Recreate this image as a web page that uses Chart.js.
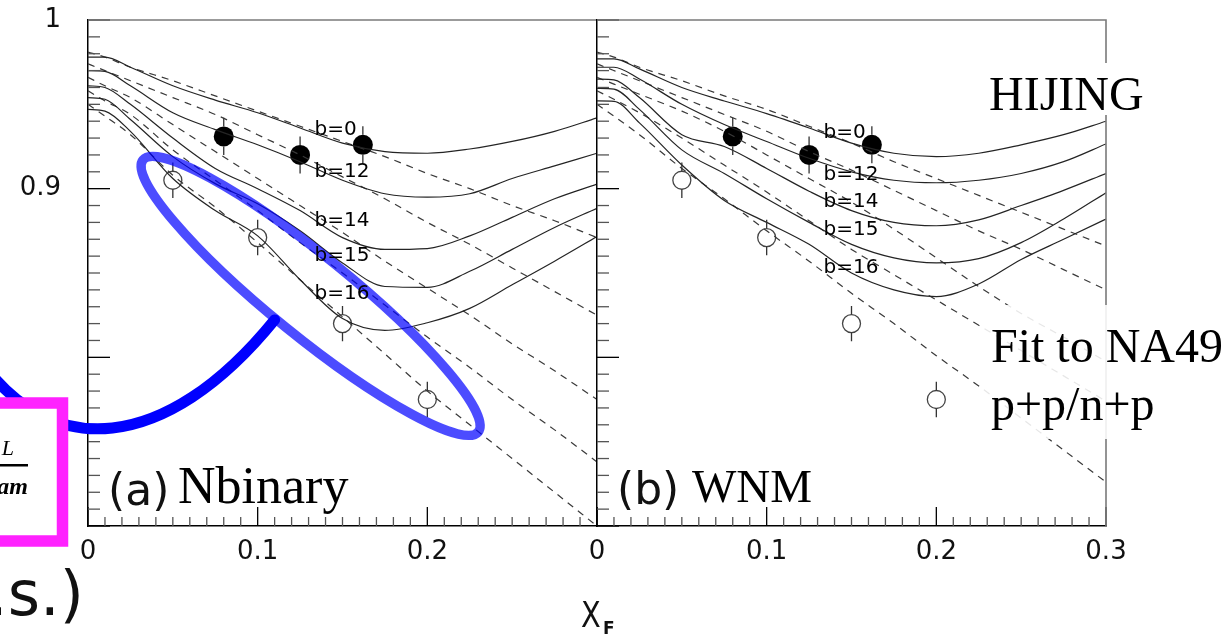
<!DOCTYPE html>
<html>
<head>
<meta charset="utf-8">
<script src="https://cdn.jsdelivr.net/npm/chart.js@4.4.0/dist/chart.umd.min.js"></script>
<style>
  html, body { margin: 0; padding: 0; background: #fff; }
  #wrap { position: relative; width: 1229px; height: 635px; overflow: hidden; }
  #wrap canvas { position: absolute; left: 0; top: 0; }
</style>
</head>
<body>
<div id="wrap">
  <canvas id="panelA" width="1229" height="635"></canvas>
  <canvas id="panelB" width="1229" height="635"></canvas>
</div>
<script>
// x grid shared by all model curves
const xGrid = [0, 0.01, 0.025, 0.05, 0.075, 0.1, 0.125, 0.15, 0.175, 0.2, 0.225, 0.25, 0.275, 0.3];
const bNames = ['b=0', 'b=12', 'b=14', 'b=15', 'b=16'];

// (a) Nbinary - HIJING curves (solid)
const nbinB0  = [0.978, 0.978, 0.972, 0.961, 0.9525, 0.945, 0.936, 0.927, 0.922, 0.921, 0.9235, 0.928, 0.934, 0.942];
const nbinB12 = [0.970, 0.9695, 0.961, 0.945, 0.935, 0.926, 0.916, 0.905, 0.897, 0.895, 0.897, 0.906, 0.9135, 0.921];
const nbinB14 = [0.961, 0.960, 0.950, 0.930, 0.912, 0.900, 0.887, 0.871, 0.864, 0.8645, 0.872, 0.883, 0.894, 0.9027];
const nbinB15 = [0.954, 0.953, 0.941, 0.919, 0.903, 0.891, 0.875, 0.856, 0.842, 0.8415, 0.851, 0.864, 0.877, 0.8884];
const nbinB16 = [0.947, 0.946, 0.934, 0.906, 0.887, 0.872, 0.846, 0.823, 0.816, 0.8205, 0.829, 0.843, 0.857, 0.8716];
// (a) Nbinary - fits (dashed)
const nbinFit0  = [0.981, 0.978, 0.972, 0.964, 0.955, 0.946, 0.937, 0.928, 0.919, 0.909, 0.900, 0.890, 0.881, 0.871];
const nbinFit12 = [0.974, 0.970, 0.964, 0.954, 0.944, 0.932, 0.920, 0.907, 0.894, 0.880, 0.867, 0.853, 0.839, 0.825];
const nbinFit14 = [0.966, 0.961, 0.954, 0.938, 0.922, 0.906, 0.890, 0.874, 0.857, 0.841, 0.825, 0.808, 0.792, 0.775];
const nbinFit15 = [0.958, 0.952, 0.944, 0.923, 0.905, 0.887, 0.868, 0.850, 0.831, 0.812, 0.794, 0.775, 0.757, 0.738];
const nbinFit16 = [0.950, 0.943, 0.932, 0.908, 0.889, 0.868, 0.846, 0.824, 0.802, 0.780, 0.760, 0.740, 0.720, 0.700];
const nbinLabelY = [0.935, 0.910, 0.881, 0.860, 0.8376];

// (b) WNM - HIJING curves (solid)
const wnmB0  = [0.977, 0.977, 0.971, 0.960, 0.952, 0.9445, 0.936, 0.927, 0.921, 0.919, 0.921, 0.926, 0.932, 0.940];
const wnmB12 = [0.972, 0.972, 0.965, 0.950, 0.938, 0.928, 0.918, 0.910, 0.905, 0.9035, 0.905, 0.909, 0.916, 0.9265];
const wnmB14 = [0.965, 0.9645, 0.954, 0.932, 0.925, 0.912, 0.8985, 0.887, 0.880, 0.878, 0.8815, 0.890, 0.899, 0.909];
const wnmB15 = [0.9595, 0.959, 0.947, 0.923, 0.909, 0.894, 0.880, 0.867, 0.859, 0.856, 0.8585, 0.868, 0.882, 0.8976];
const wnmB16 = [0.952, 0.9518, 0.939, 0.914, 0.893, 0.880, 0.867, 0.850, 0.840, 0.836, 0.8435, 0.858, 0.870, 0.882];
// (b) WNM - fits (dashed)
const wnmFit0  = [0.981, 0.978, 0.972, 0.964, 0.955, 0.947, 0.937, 0.927, 0.916, 0.906, 0.896, 0.886, 0.876, 0.866];
const wnmFit12 = [0.974, 0.970, 0.964, 0.954, 0.944, 0.934, 0.922, 0.911, 0.899, 0.887, 0.875, 0.864, 0.852, 0.840];
const wnmFit14 = [0.966, 0.962, 0.956, 0.946, 0.934, 0.920, 0.906, 0.892, 0.876, 0.859, 0.842, 0.826, 0.812, 0.7975];
const wnmFit15 = [0.958, 0.953, 0.945, 0.930, 0.914, 0.898, 0.881, 0.864, 0.849, 0.834, 0.819, 0.804, 0.789, 0.774];
const wnmFit16 = [0.950, 0.943, 0.932, 0.912, 0.894, 0.875, 0.857, 0.838, 0.820, 0.801, 0.783, 0.764, 0.745, 0.726];
const wnmLabelY = [0.933, 0.908, 0.8923, 0.8755, 0.8528];
const labelX = 0.1335;

// NA49 points, same in both panels
const xOpen = [0.05, 0.10, 0.15, 0.20];
const yOpen = [0.905, 0.871, 0.820, 0.775];
const errOpen = [0.0105, 0.0105, 0.0105, 0.0105];
const xFilled = [0.08, 0.125, 0.162];
const yFilled = [0.931, 0.920, 0.926];
const errFilled = [0.011, 0.011, 0.011];

const xTickValues = [0, 0.1, 0.2, 0.3];
const yTickValues = [0.7, 0.8, 0.9, 1.0];

// ring drawn round the open points in panel (a): ends of its long axis
const ringEnds = [[0.0324, 0.917], [0.230, 0.7558]];
// connector from the ring towards the left margin (bezier control points)
const connector = [[-0.0635, 0.7985], [-0.0224, 0.7392], [0.0453, 0.7421], [0.11, 0.8222]];

function fmt(v) {
  if (Math.abs(v) < 1e-9) return '0';
  if (Math.abs(v - 1) < 1e-9) return '1';
  return v.toFixed(1);
}

function curve(ys, dashed) {
  return {
    data: xGrid.map((x, i) => ({ x: x, y: ys[i] })),
    showLine: true,
    pointRadius: 0,
    borderColor: dashed ? '#3a3a3a' : '#242424',
    borderWidth: 1.2,
    borderDash: dashed ? [7, 6] : [],
    cubicInterpolationMode: 'monotone'
  };
}

function buildDatasets(solid, dashed) {
  const sets = [];
  solid.forEach(ys => sets.push(curve(ys, false)));
  dashed.forEach(ys => sets.push(curve(ys, true)));
  sets.push({
    data: xOpen.map((x, i) => ({ x: x, y: yOpen[i] })),
    errors: errOpen,
    showLine: false,
    pointRadius: 9,
    pointBackgroundColor: 'rgba(0,0,0,0)',
    pointBorderColor: '#444',
    pointBorderWidth: 1.3
  });
  sets.push({
    data: xFilled.map((x, i) => ({ x: x, y: yFilled[i] })),
    errors: errFilled,
    showLine: false,
    pointRadius: 10,
    pointBackgroundColor: '#000',
    pointBorderColor: '#000',
    pointBorderWidth: 0
  });
  return sets;
}

// inward ticks, frame and error bars
const framePlugin = {
  id: 'frame',
  afterDatasetsDraw(chart) {
    const { ctx, chartArea: a, scales: { x, y } } = chart;
    ctx.save();
    ctx.lineWidth = 1.3;
    for (let i = 0; i <= 30; i++) {
      const major = i % 10 === 0;
      ctx.strokeStyle = major ? '#000' : '#555';
      const px = x.getPixelForValue(i / 100);
      ctx.beginPath();
      ctx.moveTo(px, a.bottom);
      ctx.lineTo(px, a.bottom - (major ? 19 : 9));
      ctx.stroke();
      const py = y.getPixelForValue(0.7 + i / 100);
      ctx.beginPath();
      ctx.moveTo(a.left, py);
      ctx.lineTo(a.left + (major ? 22 : 12), py);
      ctx.stroke();
    }
    ctx.strokeStyle = '#7a7a7a';
    ctx.lineWidth = 1.6;
    ctx.beginPath();
    ctx.moveTo(a.left, a.top);
    ctx.lineTo(a.right, a.top);
    if (chart.options.closeRight) ctx.lineTo(a.right, a.bottom);
    ctx.stroke();

    // error bars outside the markers
    chart.data.datasets.forEach((ds, di) => {
      if (!ds.errors) return;
      const meta = chart.getDatasetMeta(di);
      ctx.strokeStyle = '#333';
      ctx.lineWidth = 1.3;
      meta.data.forEach((pt, i) => {
        const v = ds.data[i].y;
        const top = y.getPixelForValue(v + ds.errors[i]);
        const bot = y.getPixelForValue(v - ds.errors[i]);
        ctx.beginPath();
        ctx.moveTo(pt.x, top);
        ctx.lineTo(pt.x, pt.y - ds.pointRadius);
        ctx.moveTo(pt.x, pt.y + ds.pointRadius);
        ctx.lineTo(pt.x, bot);
        ctx.stroke();
      });
    });
    ctx.restore();
  }
};

function drawBLabels(chart, ys) {
  const { ctx, scales: { x, y } } = chart;
  ctx.save();
  ctx.font = '20px "DejaVu Sans"';
  ctx.fillStyle = '#000';
  ctx.textBaseline = 'middle';
  ctx.textAlign = 'left';
  bNames.forEach((name, i) => {
    ctx.fillText(name, x.getPixelForValue(labelX), y.getPixelForValue(ys[i]));
  });
  ctx.restore();
}

function drawPanelTag(ctx, tag, name, x0, xName, base, size) {
  ctx.save();
  ctx.fillStyle = '#111';
  ctx.textBaseline = 'alphabetic';
  ctx.font = '44px "DejaVu Sans"';
  ctx.fillText(tag, x0, base + 2);
  ctx.fillStyle = '#000';
  ctx.font = size + 'px "Liberation Serif"';
  ctx.fillText(name, xName, base);
  ctx.restore();
}

const panelAExtras = {
  id: 'panelAExtras',
  afterDraw(chart) {
    const { ctx, scales: { x, y } } = chart;
    const P = p => [x.getPixelForValue(p[0]), y.getPixelForValue(p[1])];
    ctx.save();

    // connector curve
    const c = connector.map(P);
    ctx.strokeStyle = '#0000ff';
    ctx.lineWidth = 11;
    ctx.lineCap = 'round';
    ctx.beginPath();
    ctx.moveTo(c[0][0], c[0][1]);
    ctx.bezierCurveTo(c[1][0], c[1][1], c[2][0], c[2][1], c[3][0], c[3][1]);
    ctx.stroke();

    // ring round the open points
    const e0 = P(ringEnds[0]), e1 = P(ringEnds[1]);
    const cx = (e0[0] + e1[0]) / 2, cy = (e0[1] + e1[1]) / 2;
    const rx = Math.hypot(e1[0] - e0[0], e1[1] - e0[1]) / 2;
    const ang = Math.atan2(e1[1] - e0[1], e1[0] - e0[0]);
    ctx.strokeStyle = 'rgba(0,0,255,0.7)';
    ctx.lineWidth = 9.5;
    ctx.beginPath();
    ctx.ellipse(cx, cy, rx, 40, ang, 0, Math.PI * 2);
    ctx.stroke();
    ctx.restore();

    drawBLabels(chart, nbinLabelY);
    drawPanelTag(ctx, '(a)', 'Nbinary', 108, 178, 503, 52);

    ctx.save();
    // magenta box in the left margin
    ctx.fillStyle = '#fff';
    ctx.fillRect(-30, 403, 92, 138);
    ctx.strokeStyle = '#ff22ff';
    ctx.lineWidth = 11.5;
    ctx.strokeRect(-30, 403, 92.5, 138);
    ctx.fillStyle = '#000';
    ctx.font = 'italic 22px "Liberation Serif"';
    ctx.textAlign = 'right';
    ctx.fillText('L', 14, 455);
    ctx.fillRect(-5, 464, 33, 2.5);
    ctx.font = 'italic bold 24px "Liberation Serif"';
    ctx.fillText('am', 28, 494);

    ctx.font = '62px "DejaVu Sans"';
    ctx.fillStyle = '#111';
    ctx.fillText('.s.)', 84, 615);

    // axis title X_F
    ctx.textAlign = 'left';
    ctx.translate(581, 627);
    ctx.scale(0.8, 1);
    ctx.font = '36px "DejaVu Sans"';
    ctx.fillText('X', 0, 0);
    ctx.restore();
    ctx.save();
    ctx.fillStyle = '#111';
    ctx.font = 'bold 17px "DejaVu Sans"';
    ctx.fillText('F', 603, 634);
    ctx.restore();
  }
};

const panelBExtras = {
  id: 'panelBExtras',
  afterDraw(chart) {
    const { ctx } = chart;
    drawBLabels(chart, wnmLabelY);
    drawPanelTag(ctx, '(b)', 'WNM', 617, 692, 502, 47);
    ctx.save();
    ctx.fillStyle = '#fff';
    ctx.fillRect(984, 63, 170, 52);
    ctx.fillStyle = 'rgba(255,255,255,0.88)';
    ctx.fillRect(983, 305, 246, 134);
    ctx.fillStyle = '#000';
    ctx.font = '48px "Liberation Serif"';
    ctx.textBaseline = 'alphabetic';
    ctx.fillText('HIJING', 989, 110);
    ctx.fillText('Fit to NA49', 991, 362);
    ctx.fillText('p+p/n+p', 991, 420);
    ctx.restore();
  }
};

function makePanel(canvasId, solid, dashed, opts) {
  return new Chart(document.getElementById(canvasId), {
    type: 'scatter',
    data: { datasets: buildDatasets(solid, dashed) },
    options: {
      responsive: false,
      animation: false,
      devicePixelRatio: 1,
      closeRight: opts.closeRight,
      layout: { padding: { left: 0, top: 20, right: opts.padRight, bottom: 0 } },
      plugins: { legend: { display: false }, tooltip: { enabled: false } },
      scales: {
        x: {
          type: 'linear', min: 0, max: 0.3,
          afterFit: s => { s.height = 109; s.paddingLeft = 0; s.paddingRight = 0; },
          afterBuildTicks: s => { s.ticks = xTickValues.map(v => ({ value: v })); },
          grid: { display: false, drawTicks: false },
          border: { display: true, color: '#000', width: 1.5 },
          ticks: {
            padding: 11, color: '#111', maxRotation: 0, autoSkip: false,
            font: { family: 'DejaVu Sans', size: 26 },
            callback: v => opts.xLabel(v)
          }
        },
        y: {
          type: 'linear', min: 0.7, max: 1.0,
          afterFit: s => { s.width = opts.yWidth; s.paddingTop = 0; s.paddingBottom = 0; },
          afterBuildTicks: s => { s.ticks = yTickValues.map(v => ({ value: v })); },
          grid: { display: false, drawTicks: false },
          border: { display: true, color: '#000', width: 1.5 },
          ticks: {
            display: opts.yLabels, padding: 27, color: '#111', autoSkip: false,
            font: { family: 'DejaVu Sans', size: 26 },
            callback: v => (v > 0.85 ? fmt(v) : '')
          }
        }
      }
    },
    plugins: [framePlugin, opts.extras]
  });
}

makePanel('panelA',
  [nbinB0, nbinB12, nbinB14, nbinB15, nbinB16],
  [nbinFit0, nbinFit12, nbinFit14, nbinFit15, nbinFit16],
  { padRight: 632, yWidth: 88, yLabels: true, closeRight: false,
    xLabel: v => (v < 0.25 ? fmt(v) : ''), extras: panelAExtras });

makePanel('panelB',
  [wnmB0, wnmB12, wnmB14, wnmB15, wnmB16],
  [wnmFit0, wnmFit12, wnmFit14, wnmFit15, wnmFit16],
  { padRight: 123, yWidth: 597, yLabels: false, closeRight: true,
    xLabel: v => fmt(v), extras: panelBExtras });
</script>
</body>
</html>
